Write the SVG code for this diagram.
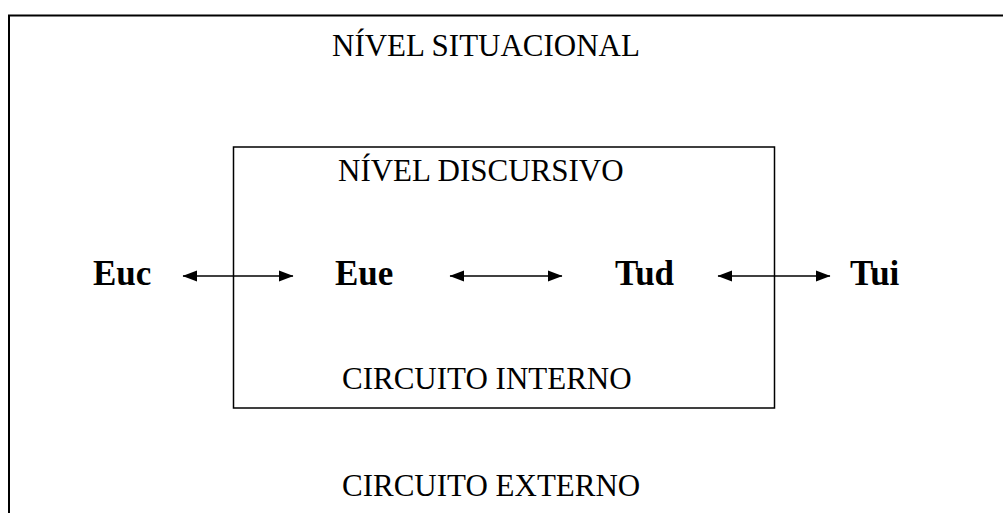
<svg xmlns="http://www.w3.org/2000/svg" width="1003" height="513" viewBox="0 0 1003 513">
<style>
.lbl{font-family:"Liberation Serif","Times New Roman",serif;font-size:31px;fill:#000}
.node{font-family:"Liberation Serif","Times New Roman",serif;font-size:35px;font-weight:bold;fill:#000}
.frame{fill:none;stroke:#000}
.conn{stroke:#000;stroke-width:1.4;fill:none}
</style>
<defs>
<marker id="ah" markerUnits="userSpaceOnUse" markerWidth="15" markerHeight="12" refX="14" refY="6" orient="auto-start-reverse" viewBox="0 0 15 12">
<path d="M0,0.5 L14.5,6 L0,11.5 Z" fill="#000"/>
</marker>
</defs>
<rect width="1003" height="513" fill="#fff"/>
<g id="outer">
<path class="frame" stroke-width="2" d="M9,520 V15.5 H1010"/>
<text class="lbl" x="332" y="56">NÍVEL SITUACIONAL</text>
<text class="lbl" x="342" y="496">CIRCUITO EXTERNO</text>
</g>
<g id="inner">
<rect class="frame" stroke-width="1.5" x="233.5" y="147" width="541" height="261"/>
<text class="lbl" x="338" y="181">NÍVEL DISCURSIVO</text>
<text class="lbl" x="342" y="389">CIRCUITO INTERNO</text>
</g>
<g id="n-euc"><text class="node" x="93" y="285">Euc</text></g>
<g id="n-eue"><text class="node" x="335" y="285">Eue</text></g>
<g id="n-tud"><text class="node" x="615" y="285">Tud</text></g>
<g id="n-tui"><text class="node" x="850" y="285">Tui</text></g>
<g id="connectors">
<line class="conn" x1="183" y1="276" x2="293" y2="276" marker-start="url(#ah)" marker-end="url(#ah)"/>
<line class="conn" x1="450" y1="276" x2="562" y2="276" marker-start="url(#ah)" marker-end="url(#ah)"/>
<line class="conn" x1="718" y1="276" x2="830" y2="276" marker-start="url(#ah)" marker-end="url(#ah)"/>
</g>
</svg>
